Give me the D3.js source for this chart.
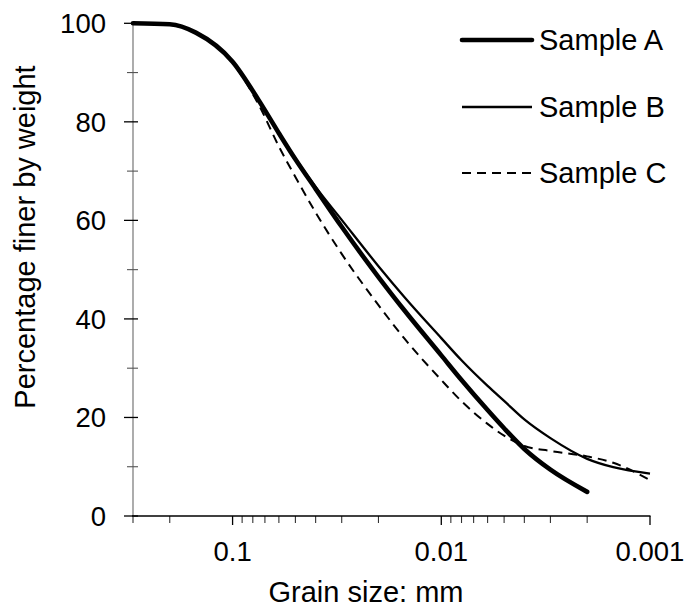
<!DOCTYPE html>
<html>
<head>
<meta charset="utf-8">
<script src="https://cdn.jsdelivr.net/npm/d3@7"></script>
<style>
  html, body { margin: 0; padding: 0; background: #fff; }
  svg { display: block; font-family: "Liberation Sans", Arial, sans-serif; }
</style>
</head>
<body>
<svg id="chart" width="688" height="615"></svg>
<script>
// ---- data ----
const grainSizes = [0.3, 0.2, 0.15, 0.1, 0.075, 0.06, 0.05, 0.04, 0.03, 0.02, 0.015, 0.01, 0.008, 0.006, 0.005, 0.004, 0.003, 0.002, 0.0015, 0.001];
const sampleA = [100, 99.8, 98.1, 92.2, 84.4, 77.7, 72.4, 66.4, 58.7, 48.5, 41.7, 32.6, 27.6, 21.5, 17.8, 13.6, 9.4, 4.9, null, null];
const sampleB = [100, 99.8, 98.1, 92.2, 84.4, 77.7, 72.6, 66.8, 60.1, 50.7, 44.4, 36.1, 31.6, 26.4, 23.35, 19.6, 15.8, 11.6, 9.9, 8.6];
const sampleC = [100, 99.8, 98.1, 92.0, 83.5, 75.0, 68.8, 61.6, 53.2, 42.8, 36.0, 27.6, 23.3, 18.7, 16.3, 14.2, 13.2, 12.1, 10.8, 7.3];
const seriesNames = ["Sample A", "Sample B", "Sample C"];
const xMajorTicks = [0.1, 0.01, 0.001];
const xTickLabels = ["0.1", "0.01", "0.001"];
const yMajorTicks = [0, 20, 40, 60, 80, 100];
const yMinorTicks = [10, 30, 50, 70, 90];

// ---- styles ----
const styles = [
  { width: 4.6, dash: null },
  { width: 2.3, dash: null },
  { width: 2.0, dash: "9,6" }
];

const svg = d3.select("#chart");
const x = d3.scaleLog().domain([0.3, 0.001]).range([133, 650]);
const y = d3.scaleLinear().domain([0, 100]).range([516, 23.3]);

// y axis
const yAxisG = svg.append("g");
yAxisG.append("line").attr("x1", x.range()[0]).attr("x2", x.range()[0])
  .attr("y1", y(0)).attr("y2", y(100)).attr("stroke", "#808080").attr("stroke-width", 1.3);
yAxisG.selectAll(".ymaj").data(yMajorTicks).join("line")
  .attr("class", "ymaj")
  .attr("x1", 124).attr("x2", 138).attr("y1", d => y(d)).attr("y2", d => y(d))
  .attr("stroke", "#000").attr("stroke-width", 1.3);
yAxisG.selectAll(".ymin").data(yMinorTicks).join("line")
  .attr("class", "ymin")
  .attr("x1", 127).attr("x2", 138).attr("y1", d => y(d)).attr("y2", d => y(d))
  .attr("stroke", "#555").attr("stroke-width", 1.1);
yAxisG.selectAll("text").data(yMajorTicks).join("text")
  .attr("x", 106).attr("y", d => y(d)).attr("dy", "0.355em")
  .attr("text-anchor", "end").attr("font-size", 27.5).attr("fill", "#000")
  .text(d => d);

// x axis
const xAxisG = svg.append("g");
const minorX = x.ticks().filter(t => !xMajorTicks.some(m => Math.abs(m - t) / m < 1e-6));
xAxisG.selectAll(".xmin").data(minorX).join("line")
  .attr("class", "xmin")
  .attr("x1", d => x(d)).attr("x2", d => x(d)).attr("y1", y(0)).attr("y2", y(0) + 7)
  .attr("stroke", "#333").attr("stroke-width", 1.1);
xAxisG.selectAll(".xmaj").data(xMajorTicks).join("line")
  .attr("class", "xmaj")
  .attr("x1", d => x(d)).attr("x2", d => x(d)).attr("y1", y(0)).attr("y2", y(0) + 9)
  .attr("stroke", "#000").attr("stroke-width", 1.3);
xAxisG.append("line").attr("x1", x.range()[0] - 1).attr("x2", x.range()[1] + 0.5)
  .attr("y1", y(0)).attr("y2", y(0)).attr("stroke", "#000").attr("stroke-width", 1.5);
xAxisG.selectAll("text").data(xMajorTicks).join("text")
  .attr("x", d => x(d)).attr("y", 561)
  .attr("text-anchor", "middle").attr("font-size", 27.5).attr("fill", "#000")
  .text((d, i) => xTickLabels[i]);

// titles
svg.append("text").attr("x", 366).attr("y", 601.5).attr("text-anchor", "middle")
  .attr("font-size", 29).text("Grain size: mm");
svg.append("text").attr("transform", "translate(35,237) rotate(-90)")
  .attr("text-anchor", "middle").attr("font-size", 29).text("Percentage finer by weight");

// series
const allSeries = [sampleA, sampleB, sampleC];
const line = d3.line()
  .defined(d => d[1] !== null)
  .x(d => x(d[0])).y(d => y(d[1]))
  .curve(d3.curveMonotoneX);

allSeries.forEach((vals, i) => {
  const pts = grainSizes.map((g, j) => [g, vals[j]]);
  svg.append("path").datum(pts)
    .attr("d", line)
    .attr("fill", "none").attr("stroke", "#000")
    .attr("stroke-width", styles[i].width)
    .attr("stroke-linecap", i === 0 ? "round" : "butt")
    .attr("stroke-linejoin", "round")
    .attr("stroke-dasharray", styles[i].dash);
});

// legend
const legendY = [40, 107, 173];
const lg = svg.append("g");
seriesNames.forEach((name, i) => {
  lg.append("line").attr("x1", 462).attr("x2", 532)
    .attr("y1", legendY[i]).attr("y2", legendY[i])
    .attr("stroke", "#000").attr("stroke-width", styles[i].width)
    .attr("stroke-linecap", i === 0 ? "round" : "butt")
    .attr("stroke-dasharray", styles[i].dash);
  lg.append("text").attr("x", 539).attr("y", legendY[i]).attr("dy", "0.355em")
    .attr("font-size", 29).text(name);
});
</script>
</body>
</html>
